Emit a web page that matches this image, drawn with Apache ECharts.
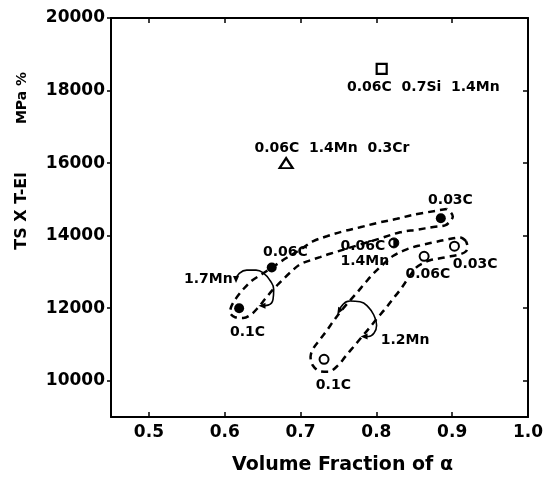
<!DOCTYPE html>
<html>
<head>
<meta charset="utf-8">
<script src="https://cdn.jsdelivr.net/npm/echarts@6/dist/echarts.min.js"></script>
<style>
html,body{margin:0;padding:0;background:#fff;}
#chart{width:548px;height:480px;}
</style>
</head>
<body>
<div id="chart"></div>
<script>
// ---- data ----
const xTicks = [0.5, 0.6, 0.7, 0.8, 0.9, 1.0];
const yTicks = [10000, 12000, 14000, 16000, 18000, 20000];

const filledPts = [[0.619, 12000], [0.662, 13120], [0.885, 14480]];   // 1.7Mn: 0.1C, 0.06C, 0.03C
const openPts = [[0.731, 10590], [0.863, 13430], [0.903, 13710]];     // 1.2Mn: 0.1C, 0.06C, 0.03C
const halfPts = [[0.823, 13800]];                                      // 0.06C 1.4Mn
const squarePts = [[0.807, 18600]];                                    // 0.06C 0.7Si 1.4Mn
const trianglePts = [[0.681, 16000]];                                  // 0.06C 1.4Mn 0.3Cr

// dashed envelopes (data units)
const loop17Mn = [[0.8929,14737],[0.8488,14573],[0.8269,14464],[0.8005,14347],[0.7785,14229],[0.7565,14120],[0.7346,13983],[0.7169,13847],[0.6993,13609],[0.6818,13390],[0.662,13117],[0.6488,12934],[0.6356,12754],[0.6245,12524],[0.6158,12298],[0.6092,12071],[0.607,11888],[0.6136,11751],[0.6245,11732],[0.6356,11841],[0.6443,12024],[0.6532,12251],[0.6641,12524],[0.6752,12754],[0.6861,12980],[0.6993,13207],[0.7125,13317],[0.7257,13409],[0.7389,13500],[0.7785,13754],[0.8049,13923],[0.8313,14092],[0.8533,14163],[0.8752,14237],[0.8906,14284],[0.8972,14393],[0.9008,14530],[0.8972,14666],[0.8929,14737]];
const loop12Mn = [[0.9183,13847],[0.9104,13950],[0.8929,13890],[0.8752,13814],[0.8577,13732],[0.8401,13623],[0.8224,13445],[0.8092,13213],[0.796,12953],[0.7851,12694],[0.7741,12420],[0.7631,12161],[0.7521,11888],[0.7433,11642],[0.7346,11382],[0.7257,11136],[0.7169,10891],[0.7132,10658],[0.7165,10412],[0.7257,10262],[0.7367,10249],[0.7499,10432],[0.7587,10658],[0.7697,10932],[0.7807,11205],[0.7917,11478],[0.8005,11705],[0.8115,11978],[0.8203,12216],[0.8313,12502],[0.8418,12817],[0.8524,13117],[0.8642,13267],[0.8708,13322],[0.8929,13409],[0.9104,13486],[0.9183,13568],[0.92,13718],[0.9183,13847]];

// curved arrows (data units)
const arc17Mn = [[0.6149,12789],[0.6189,12953],[0.629,13049],[0.6413,13049],[0.6518,12953],[0.6598,12762],[0.6646,12516],[0.6637,12243],[0.6571,12084],[0.6492,12065]];
const arc12Mn = [[0.7508,11915],[0.756,12106],[0.7653,12196],[0.7785,12175],[0.7897,12024],[0.797,11792],[0.8003,11524],[0.797,11314],[0.7897,11218],[0.7838,11218]];
const arrowHeads = [[0.6149,12789,180],[0.6492,12065,90],[0.7508,11915,150],[0.7838,11218,90]];

// annotation texts and their anchors (left edge, middle)
const labelTexts = ['0.06C  0.7Si  1.4Mn','0.06C  1.4Mn  0.3Cr','0.03C','0.06C','1.7Mn','0.1C','0.06C\n1.4Mn','0.06C','0.03C','1.2Mn','0.1C'];
const labelAnchors = [[0.7613,18081],[0.6392,16395],[0.8682,14983],[0.6505,13527],[0.5463,12797],[0.607,11341],[0.7526,13505],[0.8383,12934],[0.9007,13207],[0.8058,11115],[0.7202,9885]];

const xTitle = 'Volume Fraction of α';
const yTitleA = 'TS X T-El';
const yTitleB = 'MPa %';

// ---- chart ----
const FONT = '"DejaVu Sans", sans-serif';
const chart = echarts.init(document.getElementById('chart'), null, {renderer: 'canvas'});

const axisLineStyle = {color: '#000', width: 2};
const tickStyle = {color: '#000', width: 1.5};

const option = {
  backgroundColor: '#fff',
  animation: false,
  grid: {left: 111, right: 20, top: 18, bottom: 59, containLabel: false},
  xAxis: [
    {
      type: 'value', position: 'bottom', min: 0.45, max: 1.0,
      axisLine: {show: true, onZero: false, lineStyle: axisLineStyle},
      axisTick: {show: true, inside: true, length: 5, customValues: xTicks, lineStyle: tickStyle},
      axisLabel: {show: true, customValues: xTicks, margin: 7, color: '#000', fontFamily: FONT, fontWeight: 'bold', fontSize: 17,
                  formatter: v => v.toFixed(1)},
      splitLine: {show: false},
      name: xTitle, nameLocation: 'middle', nameGap: 39,
      nameTextStyle: {color: '#000', fontFamily: FONT, fontWeight: 'bold', fontSize: 19, padding: [0, 0, 0, 46]}
    },
    {
      type: 'value', position: 'top', min: 0.45, max: 1.0,
      axisLine: {show: true, onZero: false, lineStyle: axisLineStyle},
      axisTick: {show: true, inside: true, length: 5, customValues: xTicks, lineStyle: tickStyle},
      axisLabel: {show: false},
      splitLine: {show: false}
    }
  ],
  yAxis: [
    {
      type: 'value', position: 'left', min: 9000, max: 20000,
      axisLine: {show: true, onZero: false, lineStyle: axisLineStyle},
      axisTick: {show: true, inside: false, length: 4, customValues: yTicks, lineStyle: tickStyle},
      axisLabel: {show: true, customValues: yTicks, margin: 6, color: '#000', fontFamily: FONT, fontWeight: 'bold', fontSize: 17,
                  formatter: v => String(v)},
      splitLine: {show: false}
    },
    {
      type: 'value', position: 'right', min: 9000, max: 20000,
      axisLine: {show: true, onZero: false, lineStyle: axisLineStyle},
      axisTick: {show: true, inside: true, length: 5, customValues: yTicks, lineStyle: tickStyle},
      axisLabel: {show: false},
      splitLine: {show: false}
    }
  ],
  graphic: [
    {type: 'text', x: 22, y: 211, rotation: Math.PI / 2,
     style: {text: yTitleA, font: 'bold 16px ' + FONT, fill: '#000', align: 'center', verticalAlign: 'middle'}},
    {type: 'text', x: 22, y: 98, rotation: Math.PI / 2,
     style: {text: yTitleB, font: 'bold 14px ' + FONT, fill: '#000', align: 'center', verticalAlign: 'middle'}}
  ],
  series: [
    {
      type: 'line', name: 'envelope 1.7Mn', data: loop17Mn, smooth: 0.35, showSymbol: false, silent: true,
      lineStyle: {color: '#000', width: 2.5, type: [7, 5]}, z: 2
    },
    {
      type: 'line', name: 'envelope 1.2Mn', data: loop12Mn, smooth: 0.35, showSymbol: false, silent: true,
      lineStyle: {color: '#000', width: 2.5, type: [7, 5]}, z: 2
    },
    {
      type: 'line', name: 'arc 1.7Mn', data: arc17Mn, smooth: 0.5, showSymbol: false, silent: true,
      lineStyle: {color: '#000', width: 1.6}, z: 2
    },
    {
      type: 'line', name: 'arc 1.2Mn', data: arc12Mn, smooth: 0.5, showSymbol: false, silent: true,
      lineStyle: {color: '#000', width: 1.6}, z: 2
    },
    {
      type: 'scatter', name: 'arrows', silent: true, z: 3,
      data: arrowHeads.map(a => ({value: [a[0], a[1]], symbolRotate: a[2]})),
      symbol: 'triangle', symbolSize: [6, 7], itemStyle: {color: '#000', opacity: 1}
    },
    {
      type: 'scatter', name: '1.7Mn', data: filledPts, symbol: 'circle', symbolSize: 10,
      itemStyle: {color: '#000', opacity: 1}, z: 5
    },
    {
      type: 'scatter', name: '1.2Mn', data: openPts, symbol: 'circle', symbolSize: 9,
      itemStyle: {color: '#fff', borderColor: '#000', borderWidth: 2, opacity: 1}, z: 5
    },
    {
      type: 'scatter', name: '0.06C 1.4Mn', data: halfPts, symbol: 'circle', symbolSize: 10,
      itemStyle: {color: '#000', borderColor: '#000', borderWidth: 1, opacity: 1}, z: 5
    },
    {
      type: 'scatter', name: '0.06C 1.4Mn half', data: halfPts, symbol: 'path://M10,0 A10,10 0 0,0 10,20 Z',
      symbolSize: [3, 6], symbolOffset: [-2, 0], itemStyle: {color: '#fff', opacity: 1}, z: 6, silent: true
    },
    {
      type: 'scatter', name: '0.06C 0.7Si 1.4Mn', data: squarePts, symbol: 'rect', symbolSize: 10,
      itemStyle: {color: '#fff', borderColor: '#000', borderWidth: 2.2, opacity: 1}, z: 5
    },
    {
      type: 'scatter', name: '0.06C 1.4Mn 0.3Cr', data: trianglePts, symbol: 'triangle', symbolSize: [13, 10],
      itemStyle: {color: '#fff', borderColor: '#000', borderWidth: 2.2, opacity: 1}, z: 5
    },
    {
      type: 'scatter', name: 'labels', silent: true, z: 7, symbolSize: 0,
      itemStyle: {opacity: 1},
      data: labelTexts.map((t, i) => ({name: t, value: labelAnchors[i]})),
      label: {show: true, position: 'inside', align: 'left', verticalAlign: 'middle', opacity: 1,
              formatter: p => p.name, color: '#000', fontFamily: FONT, fontWeight: 'bold', fontSize: 14, lineHeight: 15}
    }
  ]
};
chart.setOption(option);
</script>
</body>
</html>
